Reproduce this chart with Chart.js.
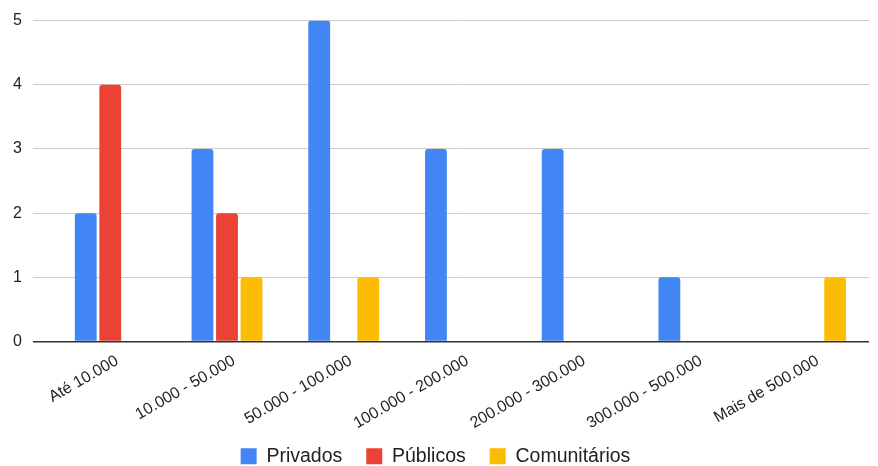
<!DOCTYPE html>
<html>
<head>
<meta charset="utf-8">
<script src="https://cdn.jsdelivr.net/npm/chart.js@4"></script>
<style>
  html, body { margin: 0; padding: 0; background: #fff; }
  #wrap { width: 878px; height: 466px; }
</style>
</head>
<body>
<div id="wrap"><canvas id="myChart"></canvas></div>
<script>
// categories (population ranges)
const categories = ['Até 10.000', '10.000 - 50.000', '50.000 - 100.000', '100.000 - 200.000',
    '200.000 - 300.000', '300.000 - 500.000', 'Mais de 500.000'];
const privados = [2, 3, 5, 3, 3, 1, 0];
const publicos = [4, 2, 0, 0, 0, 0, 0];
const comunitarios = [0, 1, 1, 0, 0, 0, 1];
const yTicks = [0, 1, 2, 3, 4, 5];

Chart.defaults.font.family = '"Liberation Sans", Arial, sans-serif';
Chart.defaults.color = '#222';

function series(label, data, color) {
    return {
        label: label,
        data: data,
        backgroundColor: color,
        borderRadius: 3,
        borderSkipped: 'bottom',
        categoryPercentage: 0.63,
        barPercentage: 0.89
    };
}

const lineColor = c => (c.tick && c.tick.value === 0) ? '#333' : '#ccc';

// the legend padding is wide for item spacing, so move it up a bit after layout
const legendShift = {
    id: 'legendShift',
    afterLayout(chart) {
        const lg = chart.legend;
        if (lg) { lg.top -= 20; lg.bottom -= 20; }
    }
};

const ctx = document.getElementById('myChart').getContext('2d');
new Chart(ctx, {
    type: 'bar',
    data: {
        labels: categories,
        datasets: [
            series('Privados', privados, '#4285F4'),
            series('Públicos', publicos, '#EA4335'),
            series('Comunitários', comunitarios, '#FBBC04')
        ]
    },
    options: {
        responsive: true,
        maintainAspectRatio: false,
        animation: false,
        layout: { padding: { top: 15, right: 9, left: 2, bottom: -30 } },
        plugins: {
            tooltip: { enabled: false },
            legend: {
                position: 'bottom',
                labels: {
                    boxWidth: 16,
                    boxHeight: 16,
                    padding: 24,
                    font: { size: 19.5 },
                    color: '#222'
                }
            }
        },
        scales: {
            x: {
                grid: { display: false, drawTicks: false },
                border: { display: false },
                afterFit: scale => { scale.height = 101; },
                ticks: {
                    minRotation: 30,
                    maxRotation: 30,
                    autoSkip: false,
                    padding: 10,
                    labelOffset: 7,
                    font: { size: 16 },
                    color: '#222'
                }
            },
            y: {
                min: 0,
                max: 5,
                afterBuildTicks: axis => { axis.ticks = yTicks.map(v => ({ value: v })); },
                grid: {
                    color: lineColor,
                    tickColor: lineColor,
                    lineWidth: c => (c.tick && c.tick.value === 0) ? 1.5 : 1,
                    tickLength: 19,
                    drawTicks: true
                },
                border: { display: false },
                ticks: {
                    padding: 11,
                    font: { size: 16 },
                    color: '#222'
                }
            }
        }
    },
    plugins: [legendShift]
});
</script>
</body>
</html>
